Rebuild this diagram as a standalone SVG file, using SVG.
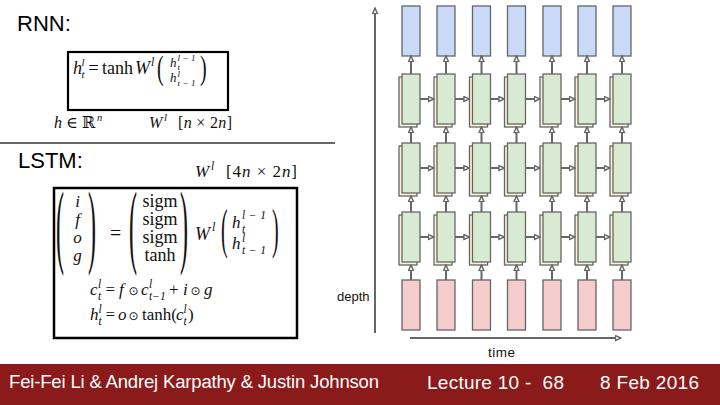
<svg xmlns="http://www.w3.org/2000/svg" width="720" height="405" viewBox="0 0 720 405">
<style>
.m{font-family:"Liberation Serif","DejaVu Serif",serif;fill:#111}
.i{font-style:italic}
.o{font-family:"DejaVu Sans",sans-serif;fill:#111}
.s{font-family:"Liberation Sans",Arial,sans-serif}
.blue{fill:#c9daf8;stroke:#666;stroke-width:1.3}
.green{fill:#d9ead3;stroke:#666;stroke-width:1.3}
.beige{fill:#fdf3d6;stroke:#666;stroke-width:1.3}
.pink{fill:#f4cccc;stroke:#666;stroke-width:1.3}
.ar{fill:none;stroke:#666;stroke-width:2;marker-end:url(#ah)}
</style>
<defs>
<marker id="ah" viewBox="0 0 10 10" refX="9" refY="5" markerWidth="7" markerHeight="7" markerUnits="userSpaceOnUse" orient="auto">
<path d="M1,1.5 L9,5 L1,8.5 Z" fill="#fff" stroke="#666" stroke-width="2"/>
</marker>
</defs>
<rect width="720" height="405" fill="#fff"/>

<!-- Left: RNN -->
<g id="rnn-title"><text class="s" x="17" y="31" font-size="22" fill="#000">RNN:</text></g>
<g id="rnn-eq">
<rect x="68" y="52" width="160" height="58" fill="none" stroke="#000" stroke-width="2.2"/>
<text class="m i" x="73" y="74" font-size="18">h</text>
<text class="m i" x="81.5" y="66" font-size="11">l</text>
<text class="m i" x="81.5" y="78" font-size="11">t</text>
<text class="m" x="88.5" y="74" font-size="18">=</text>
<text class="m" x="102" y="74" font-size="18">tanh</text>
<text class="m i" x="135" y="74" font-size="18">W</text>
<text class="m i" x="151" y="66" font-size="12">l</text>
<text class="m" transform="translate(157,79) scale(1,1.7)" font-size="20">(</text>
<text class="m i" x="170" y="67" font-size="13">h</text>
<text class="m i" x="177.5" y="60.5" font-size="9" textLength="18">l−1</text>
<text class="m i" x="177.5" y="69.5" font-size="9">t</text>
<text class="m i" x="170" y="82" font-size="13">h</text>
<text class="m i" x="177.5" y="77" font-size="9">l</text>
<text class="m i" x="177.5" y="86" font-size="9" textLength="18">t−1</text>
<text class="m" transform="translate(200,79) scale(1,1.7)" font-size="20">)</text>
</g>
<g id="rnn-dims">
<text class="m i" x="54" y="128" font-size="16" fill="#333">h</text>
<text class="m" x="66" y="128" font-size="16" fill="#333">∈ ℝ</text>
<text class="m i" x="97" y="121" font-size="10.5" fill="#333">n</text>
<text class="m i" x="149" y="128" font-size="16" fill="#333">W</text>
<text class="m i" x="164" y="121" font-size="11" fill="#333">l</text>
<text class="m" x="178" y="128" font-size="16" fill="#333" textLength="54">[<tspan class="i">n</tspan> × 2<tspan class="i">n</tspan>]</text>
</g>

<g id="divider"><line x1="0" y1="143" x2="335" y2="143" stroke="#666" stroke-width="2.2"/></g>

<!-- Left: LSTM -->
<g id="lstm-title"><text class="s" x="18" y="168" font-size="22" fill="#000">LSTM:</text></g>
<g id="lstm-dims">
<text class="m i" x="195" y="177" font-size="17" fill="#333">W</text>
<text class="m i" x="211" y="170" font-size="11.5" fill="#333">l</text>
<text class="m" x="226" y="177" font-size="17" fill="#333" textLength="71">[4<tspan class="i">n</tspan> × 2<tspan class="i">n</tspan>]</text>
</g>
<g id="lstm-eq">
<rect x="54" y="188" width="243" height="150" fill="none" stroke="#000" stroke-width="2.5"/>
<text class="m" transform="translate(56,255.6) scale(1,3.86)" font-size="24">(</text>
<g class="m i" font-size="17" text-anchor="middle">
<text x="77.5" y="207">i</text><text x="77.5" y="225">f</text><text x="77.5" y="243">o</text><text x="77.5" y="261">g</text>
</g>
<text class="m" transform="translate(88,255.6) scale(1,3.86)" font-size="24">)</text>
<text class="m" x="110" y="240" font-size="20">=</text>
<text class="m" transform="translate(129,255.6) scale(1,3.86)" font-size="24">(</text>
<g class="m" font-size="18" text-anchor="middle">
<text x="160" y="207">sigm</text><text x="160" y="225">sigm</text><text x="160" y="243">sigm</text><text x="160" y="261">tanh</text>
</g>
<text class="m" transform="translate(180,255.6) scale(1,3.86)" font-size="24">)</text>
<text class="m i" x="195" y="240" font-size="18">W</text>
<text class="m i" x="212" y="231" font-size="12">l</text>
<text class="m" transform="translate(221,247) scale(1,2.75)" font-size="20">(</text>
<text class="m i" x="232" y="228" font-size="17">h</text>
<text class="m i" x="242" y="219" font-size="11.5" textLength="24">l−1</text>
<text class="m i" x="242" y="232.5" font-size="11.5">t</text>
<text class="m i" x="232" y="249" font-size="17">h</text>
<text class="m i" x="242" y="242" font-size="11.5">l</text>
<text class="m i" x="242" y="254" font-size="11.5" textLength="24">t−1</text>
<text class="m" transform="translate(272,247) scale(1,2.75)" font-size="20">)</text>

<text class="m i" x="90" y="295" font-size="17">c</text>
<text class="m i" x="98" y="288" font-size="11.5">l</text>
<text class="m i" x="98" y="299.5" font-size="11.5">t</text>
<text class="m" x="105.5" y="295" font-size="17">=</text>
<text class="m i" x="119" y="295" font-size="17">f</text>
<text class="o" x="128.5" y="295" font-size="12">⊙</text>
<text class="m i" x="141" y="295" font-size="17">c</text>
<text class="m i" x="149" y="288" font-size="11.5">l</text>
<text class="m i" x="149" y="299.5" font-size="11.5">t−1</text>
<text class="m" x="169" y="295" font-size="17">+</text>
<text class="m i" x="183" y="295" font-size="17">i</text>
<text class="o" x="190.5" y="295" font-size="12">⊙</text>
<text class="m i" x="204" y="295" font-size="17">g</text>

<text class="m i" x="90" y="320" font-size="17">h</text>
<text class="m i" x="98.5" y="313" font-size="11.5">l</text>
<text class="m i" x="98.5" y="324.5" font-size="11.5">t</text>
<text class="m" x="105.5" y="320" font-size="17">=</text>
<text class="m i" x="118" y="320" font-size="17">o</text>
<text class="o" x="128.5" y="320" font-size="12">⊙</text>
<text class="m" x="142" y="320" font-size="17">tanh(</text>
<text class="m i" x="176" y="320" font-size="17">c</text>
<text class="m i" x="183.5" y="313" font-size="11.5">l</text>
<text class="m i" x="183.5" y="324.5" font-size="11.5">t</text>
<text class="m" x="188" y="320" font-size="17">)</text>
</g>

<!-- Right: stacked RNN grid -->
<g id="outputs">
<g id="out-1"><rect class="blue" x="402" y="6" width="18" height="50"/></g>
<g id="out-2"><rect class="blue" x="437" y="6" width="18" height="50"/></g>
<g id="out-3"><rect class="blue" x="472.5" y="6" width="18" height="50"/></g>
<g id="out-4"><rect class="blue" x="507.5" y="6" width="18" height="50"/></g>
<g id="out-5"><rect class="blue" x="543" y="6" width="18" height="50"/></g>
<g id="out-6"><rect class="blue" x="578" y="6" width="18" height="50"/></g>
<g id="out-7"><rect class="blue" x="613" y="6" width="18" height="50"/></g>
</g>
<g id="layer1">
<g id="l1-1"><rect class="beige" x="399" y="77" width="18" height="50"/><rect class="green" x="402" y="74" width="18" height="50"/></g>
<g id="l1-2"><rect class="beige" x="434" y="77" width="18" height="50"/><rect class="green" x="437" y="74" width="18" height="50"/></g>
<g id="l1-3"><rect class="beige" x="469.5" y="77" width="18" height="50"/><rect class="green" x="472.5" y="74" width="18" height="50"/></g>
<g id="l1-4"><rect class="beige" x="504.5" y="77" width="18" height="50"/><rect class="green" x="507.5" y="74" width="18" height="50"/></g>
<g id="l1-5"><rect class="beige" x="540" y="77" width="18" height="50"/><rect class="green" x="543" y="74" width="18" height="50"/></g>
<g id="l1-6"><rect class="beige" x="575" y="77" width="18" height="50"/><rect class="green" x="578" y="74" width="18" height="50"/></g>
<g id="l1-7"><rect class="beige" x="610" y="77" width="18" height="50"/><rect class="green" x="613" y="74" width="18" height="50"/></g>
</g>
<g id="layer2">
<g id="l2-1"><rect class="beige" x="399" y="146" width="18" height="50"/><rect class="green" x="402" y="143" width="18" height="50"/></g>
<g id="l2-2"><rect class="beige" x="434" y="146" width="18" height="50"/><rect class="green" x="437" y="143" width="18" height="50"/></g>
<g id="l2-3"><rect class="beige" x="469.5" y="146" width="18" height="50"/><rect class="green" x="472.5" y="143" width="18" height="50"/></g>
<g id="l2-4"><rect class="beige" x="504.5" y="146" width="18" height="50"/><rect class="green" x="507.5" y="143" width="18" height="50"/></g>
<g id="l2-5"><rect class="beige" x="540" y="146" width="18" height="50"/><rect class="green" x="543" y="143" width="18" height="50"/></g>
<g id="l2-6"><rect class="beige" x="575" y="146" width="18" height="50"/><rect class="green" x="578" y="143" width="18" height="50"/></g>
<g id="l2-7"><rect class="beige" x="610" y="146" width="18" height="50"/><rect class="green" x="613" y="143" width="18" height="50"/></g>
</g>
<g id="layer3">
<g id="l3-1"><rect class="beige" x="399" y="215" width="18" height="50"/><rect class="green" x="402" y="212" width="18" height="50"/></g>
<g id="l3-2"><rect class="beige" x="434" y="215" width="18" height="50"/><rect class="green" x="437" y="212" width="18" height="50"/></g>
<g id="l3-3"><rect class="beige" x="469.5" y="215" width="18" height="50"/><rect class="green" x="472.5" y="212" width="18" height="50"/></g>
<g id="l3-4"><rect class="beige" x="504.5" y="215" width="18" height="50"/><rect class="green" x="507.5" y="212" width="18" height="50"/></g>
<g id="l3-5"><rect class="beige" x="540" y="215" width="18" height="50"/><rect class="green" x="543" y="212" width="18" height="50"/></g>
<g id="l3-6"><rect class="beige" x="575" y="215" width="18" height="50"/><rect class="green" x="578" y="212" width="18" height="50"/></g>
<g id="l3-7"><rect class="beige" x="610" y="215" width="18" height="50"/><rect class="green" x="613" y="212" width="18" height="50"/></g>
</g>
<g id="inputs">
<g id="in-1"><rect class="pink" x="402" y="280" width="18" height="50"/></g>
<g id="in-2"><rect class="pink" x="437" y="280" width="18" height="50"/></g>
<g id="in-3"><rect class="pink" x="472.5" y="280" width="18" height="50"/></g>
<g id="in-4"><rect class="pink" x="507.5" y="280" width="18" height="50"/></g>
<g id="in-5"><rect class="pink" x="543" y="280" width="18" height="50"/></g>
<g id="in-6"><rect class="pink" x="578" y="280" width="18" height="50"/></g>
<g id="in-7"><rect class="pink" x="613" y="280" width="18" height="50"/></g>
</g>

<g id="connectors">
<path class="ar" d="M411,280V265"/><path class="ar" d="M411,212V196"/><path class="ar" d="M411,143V127"/><path class="ar" d="M411,74V56"/>
<path class="ar" d="M446,280V265"/><path class="ar" d="M446,212V196"/><path class="ar" d="M446,143V127"/><path class="ar" d="M446,74V56"/>
<path class="ar" d="M481.5,280V265"/><path class="ar" d="M481.5,212V196"/><path class="ar" d="M481.5,143V127"/><path class="ar" d="M481.5,74V56"/>
<path class="ar" d="M516.5,280V265"/><path class="ar" d="M516.5,212V196"/><path class="ar" d="M516.5,143V127"/><path class="ar" d="M516.5,74V56"/>
<path class="ar" d="M552,280V265"/><path class="ar" d="M552,212V196"/><path class="ar" d="M552,143V127"/><path class="ar" d="M552,74V56"/>
<path class="ar" d="M587,280V265"/><path class="ar" d="M587,212V196"/><path class="ar" d="M587,143V127"/><path class="ar" d="M587,74V56"/>
<path class="ar" d="M622,280V265"/><path class="ar" d="M622,212V196"/><path class="ar" d="M622,143V127"/><path class="ar" d="M622,74V56"/>
<path class="ar" d="M420,99H434"/><path class="ar" d="M455,99H469.5"/><path class="ar" d="M490.5,99H504.5"/><path class="ar" d="M525.5,99H540"/><path class="ar" d="M561,99H575"/><path class="ar" d="M596,99H610"/>
<path class="ar" d="M420,168H434"/><path class="ar" d="M455,168H469.5"/><path class="ar" d="M490.5,168H504.5"/><path class="ar" d="M525.5,168H540"/><path class="ar" d="M561,168H575"/><path class="ar" d="M596,168H610"/>
<path class="ar" d="M420,237H434"/><path class="ar" d="M455,237H469.5"/><path class="ar" d="M490.5,237H504.5"/><path class="ar" d="M525.5,237H540"/><path class="ar" d="M561,237H575"/><path class="ar" d="M596,237H610"/>
<path class="ar" d="M375,333V8"/>
<path class="ar" d="M410,338H621"/>
</g>
<g id="axis-labels">
<text class="s" x="337" y="301" font-size="13" fill="#111">depth</text>
<text class="s" x="488" y="357" font-size="13.5" fill="#111" textLength="27">time</text>
</g>

<g id="footer">
<rect x="0" y="364" width="720" height="41" fill="#8b1a1a"/>
<text class="s" x="9" y="388" font-size="18.5" fill="#fff" textLength="370">Fei-Fei Li &amp; Andrej Karpathy &amp; Justin Johnson</text>
<text class="s" x="427" y="389" font-size="19" fill="#fff" textLength="137" xml:space="preserve">Lecture 10 -  68</text>
<text class="s" x="600" y="389" font-size="19" fill="#fff" textLength="99">8 Feb 2016</text>
</g>
</svg>
